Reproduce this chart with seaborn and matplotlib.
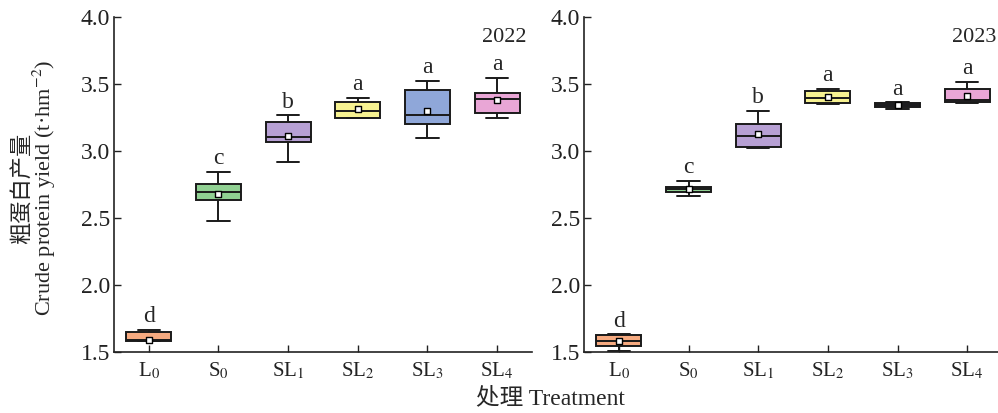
import numpy as np
import pandas as pd
import seaborn as sns
import matplotlib.pyplot as plt

sns.set_style('ticks')
plt.rcParams['font.family'] = ['Liberation Serif', 'Noto Sans CJK SC']
plt.rcParams['mathtext.fontset'] = 'stix'

# Treatments and box colours
treatments = ['L$_0$', 'S$_0$', 'SL$_1$', 'SL$_2$', 'SL$_3$', 'SL$_4$']
box_colors = ['#F6AA80', '#90D092', '#B7A0D4', '#F7F291', '#8FA7D9', '#E9A6D6']

# Five-number summaries: [min, q1, median, q3, max]
stats_2022 = [
    [1.582, 1.582, 1.587, 1.649, 1.666],
    [2.476, 2.635, 2.692, 2.756, 2.846],
    [2.915, 3.067, 3.106, 3.213, 3.265],
    [3.245, 3.245, 3.302, 3.364, 3.394],
    [3.099, 3.203, 3.268, 3.454, 3.526],
    [3.248, 3.285, 3.387, 3.436, 3.546],
]
stats_2023 = [
    [1.507, 1.542, 1.580, 1.624, 1.632],
    [2.664, 2.697, 2.717, 2.734, 2.776],
    [3.022, 3.032, 3.109, 3.198, 3.302],
    [3.352, 3.359, 3.399, 3.446, 3.466],
    [3.312, 3.330, 3.342, 3.357, 3.362],
    [3.359, 3.367, 3.382, 3.461, 3.513],
]

# Means (small square markers)
means_2022 = [1.592, 2.682, 3.114, 3.310, 3.302, 3.382]
means_2023 = [1.580, 2.717, 3.129, 3.402, 3.342, 3.412]

# Significance letters
letters_2022 = ['d', 'c', 'b', 'a', 'a', 'a']
letters_2023 = ['d', 'c', 'b', 'a', 'a', 'a']

years = ['2022', '2023']
panels = [(stats_2022, means_2022, letters_2022), (stats_2023, means_2023, letters_2023)]

fig = plt.figure(figsize=(9.98, 4.13), dpi=100)
ax_positions = [[114 / 998, 61 / 413, 418 / 998, 335 / 413],
                [584 / 998, 61 / 413, 418 / 998, 335 / 413]]

for pos, year, (stats, means, letters) in zip(ax_positions, years, panels):
    ax = fig.add_axes(pos)

    # Long-format table with the five summary values per treatment
    rows = []
    for t, s in zip(treatments, stats):
        for v in s:
            rows.append({'treatment': t, 'value': v})
    df = pd.DataFrame(rows)

    sns.boxplot(data=df, x='treatment', y='value', hue='treatment', order=treatments,
                palette=box_colors, saturation=1, legend=False, width=0.65, whis=(0, 100),
                linecolor='#1a1a1a', linewidth=1.4, ax=ax)

    # Mean markers
    sns.stripplot(x=treatments, y=means, order=treatments, jitter=False, marker='s',
                  color='white', edgecolor='black', linewidth=1.0, size=4.5,
                  ax=ax, zorder=5)

    # Letters above the upper whisker
    for i, (s, lab) in enumerate(zip(stats, letters)):
        ax.annotate(lab, (i, s[-1]), xytext=(0, 2), textcoords='offset points',
                    ha='center', va='bottom', fontsize=17)

    ax.text(0.986, 0.925, year, transform=ax.transAxes, ha='right', va='baseline', fontsize=16)

    ax.set_ylim(1.5, 4.0)
    ax.set_xlim(-0.5, 5.5)
    ax.set_yticks(np.arange(1.5, 4.01, 0.5))
    ax.set_yticklabels([f'{v:.1f}' for v in np.arange(1.5, 4.01, 0.5)])
    ax.set_xlabel('')
    ax.set_ylabel('')
    ax.tick_params(direction='in', length=5, width=1.0, colors='#222222')
    ax.tick_params(axis='y', labelsize=17, pad=3)
    ax.tick_params(axis='x', labelsize=15, pad=6)
    for side in ['top', 'right']:
        ax.spines[side].set_visible(False)
    for side in ['left', 'bottom']:
        ax.spines[side].set_linewidth(1.2)
        ax.spines[side].set_color('#222222')

# Shared axis labels
fig.text(35 / 998, 1 - 188 / 413, '粗蛋白产量\nCrude protein yield (t·hm$^{-2}$)',
         rotation=90, ha='center', va='center', multialignment='center',
         fontsize=16, linespacing=0.9)
fig.text(550 / 998, 1 - 398 / 413, '处理 Treatment', ha='center', va='center', fontsize=17)

fig.savefig('out.png', dpi=100)
